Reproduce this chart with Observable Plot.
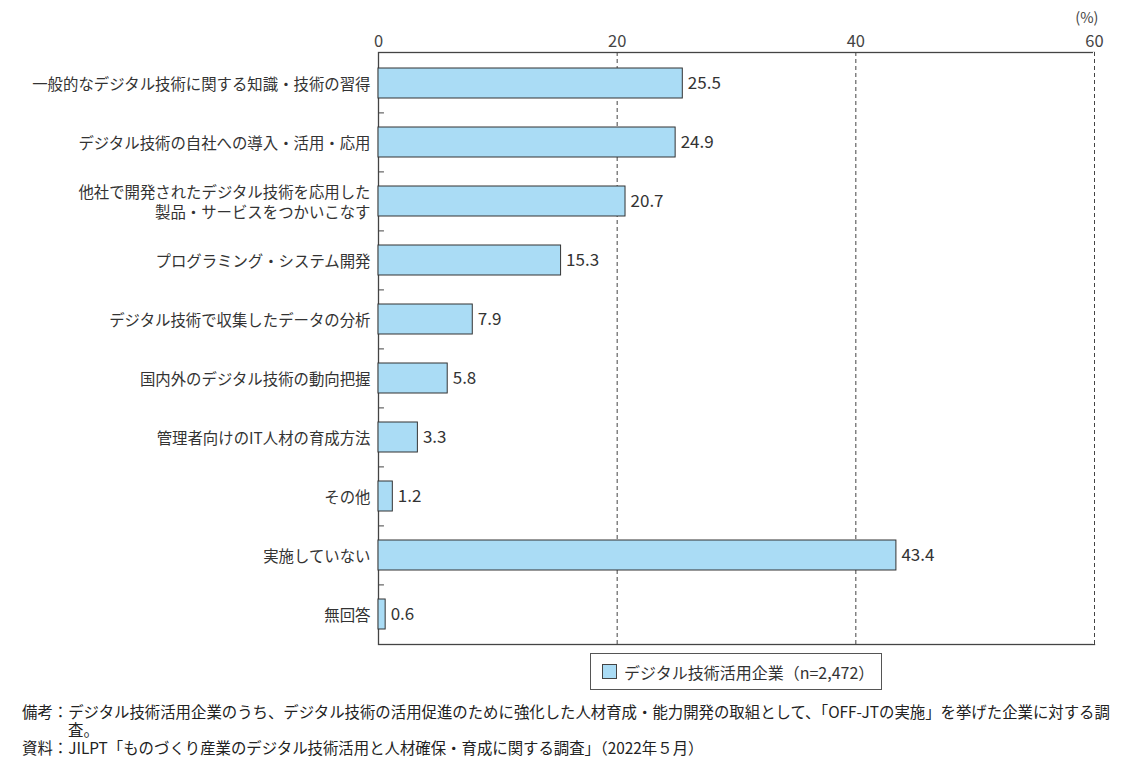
<!DOCTYPE html>
<html>
<head>
<meta charset="utf-8">
<script src="https://cdn.jsdelivr.net/npm/d3@7"></script>
<script src="https://cdn.jsdelivr.net/npm/@observablehq/plot@0.6"></script>
<style>
  html, body { margin: 0; padding: 0; background: #fff; }
  body { width: 1138px; font-family: "Noto Sans CJK JP", "Noto Sans", sans-serif; color: #333; }
  #chart svg { display: block; }
  .legend { margin: 5px 0 0 590px; width: 292px; height: 37px; box-sizing: border-box; border: 1px solid #555;
            display: flex; align-items: center; padding-left: 11px; font-size: 16px; color: #333; }
  .legend .sw { width: 13px; height: 13px; background: #aadcf5; border: 1px solid #444; margin-right: 7px; }
  .notes { margin: 12px 0 0 22px; font-size: 15.4px; line-height: 18px; color: #222; white-space: nowrap; }
  .notes .ind { padding-left: 46px; }
</style>
</head>
<body>
<div id="chart"></div>
<div class="legend"><span class="sw"></span><span id="legendText"></span></div>
<div class="notes" id="notes"></div>
<script>
const categories = [
  "一般的なデジタル技術に関する知識・技術の習得",
  "デジタル技術の自社への導入・活用・応用",
  "他社で開発されたデジタル技術を応用した\n製品・サービスをつかいこなす",
  "プログラミング・システム開発",
  "デジタル技術で収集したデータの分析",
  "国内外のデジタル技術の動向把握",
  "管理者向けのIT人材の育成方法",
  "その他",
  "実施していない",
  "無回答"
];
const values = [25.5, 24.9, 20.7, 15.3, 7.9, 5.8, 3.3, 1.2, 43.4, 0.6];
const xTicks = [0, 20, 40, 60];
const seriesName = "デジタル技術活用企業（n=2,472）";
const unitLabel = "(%)";
const noteLines = [
  "備考：デジタル技術活用企業のうち、デジタル技術の活用促進のために強化した人材育成・能力開発の取組として、「OFF-JTの実施」を挙げた企業に対する調",
  "査。",
  "資料：JILPT「ものづくり産業のデジタル技術活用と人材確保・育成に関する調査」（2022年５月）"
];

const data = categories.map((c, i) => ({category: c, value: values[i]}));

const W = 1138, H = 648, mT = 52, mB = 4, mL = 378, mR = 44;
const step = (H - mT - mB) / categories.length;

const chart = Plot.plot({
  width: W,
  height: H,
  marginTop: mT,
  marginBottom: mB,
  marginLeft: mL,
  marginRight: mR,
  style: {fontFamily: '"Noto Sans CJK JP", "Noto Sans", sans-serif', color: "#333", background: "#fff"},
  x: {domain: [0, 60]},
  y: {domain: categories, paddingInner: 0.5, paddingOuter: 0.25},
  marks: [
    Plot.frame({stroke: "#444", strokeWidth: 1.3}),
    Plot.ruleX([60], {stroke: "white", strokeWidth: 3}),
    Plot.gridX({ticks: xTicks.slice(1), stroke: "#444", strokeOpacity: 1, strokeDasharray: "4,3"}),
    Plot.ruleY(categories.slice(1), {y: d => d, x1: 0, x2: 0.5, dy: -step / 2, stroke: "#444"}),
    Plot.barX(data, {y: "category", x: "value", fill: "#aadcf5", stroke: "#333", strokeWidth: 1}),
    Plot.text(data, {y: "category", x: "value", text: d => d.value.toFixed(1), textAnchor: "start", dx: 5, fontSize: 17, fill: "#333"}),
    Plot.axisX({anchor: "top", ticks: xTicks, tickSize: 0, tickPadding: 6, fontSize: 16.5, label: null, color: "#444"}),
    Plot.text([unitLabel], {frameAnchor: "top-right", dy: -40, dx: 4, fontSize: 14.5, fill: "#444"}),
    Plot.axisY({tickSize: 0, tickPadding: 8, fontSize: 15.4, label: null, color: "#333", lineHeight: 1.3})
  ]
});
document.getElementById("chart").appendChild(chart);
document.getElementById("legendText").textContent = seriesName;
const notes = document.getElementById("notes");
noteLines.forEach((t, i) => {
  const d = document.createElement("div");
  d.textContent = t;
  if (i === 1) d.className = "ind";
  notes.appendChild(d);
});
</script>
</body>
</html>
